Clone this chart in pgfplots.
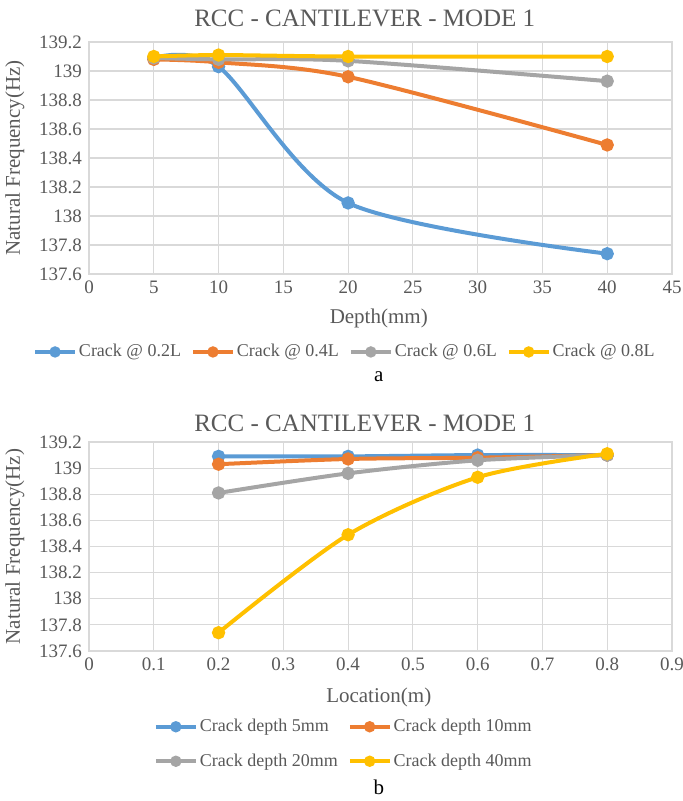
\documentclass[border=0pt]{standalone}
\usepackage{fontspec}
\setmainfont{Liberation Serif}
\usepackage{pgfplots}
\pgfplotsset{compat=1.18}

\definecolor{cblue}{HTML}{5B9BD5}
\definecolor{corange}{HTML}{ED7D31}
\definecolor{cgray}{HTML}{A5A5A5}
\definecolor{cyellow}{HTML}{FFC000}
\definecolor{gridgray}{HTML}{D9D9D9}
\definecolor{textgray}{HTML}{595959}

\pgfplotsset{
  every axis title/.style={at={(0.5,1)}, anchor=center},
  excel/.style={
    scale only axis, width=291.5pt,
    clip mode=individual,
    axis line style={draw=gridgray, line width=0.6pt},
    grid=major, major grid style={draw=gridgray, line width=0.6pt},
    tick style={draw=none},
    ticklabel style={font=\fontsize{9.5}{11}\selectfont, text=textgray},
    /pgf/number format/assume math mode=true,
    yticklabel style={/pgf/number format/fixed, /pgf/number format/precision=1},
    label style={font=\fontsize{10.5}{12}\selectfont, text=textgray},
    title style={font=\fontsize{12.5}{14}\selectfont, text=textgray},
    ylabel style={at={(axis description cs:-0.127,0.5)}, anchor=center, rotate=0},
    legend style={draw=none, fill=none, font=\fontsize{9}{11}\selectfont, text=textgray, anchor=center,
      /tikz/every even column/.append style={column sep=4pt},
      nodes={inner xsep=1pt}},
    legend cell align=left,
    legend image code/.code={\draw[mark repeat=2, mark phase=2, mark size=1.8pt]
      plot coordinates {(0cm,0cm) (0.35cm,0cm) (0.7cm,0cm)};},
    every axis plot/.append style={line width=2pt, mark=*, mark size=2.3pt, smooth},
    ymin=137.6, ymax=139.2,
    ytick={137.6,137.8,138,138.2,138.4,138.6,138.8,139,139.2},
    ylabel={Natural Frequency(Hz)},
    title={RCC - CANTILEVER - MODE 1},
  }
}

\begin{document}
\begin{tikzpicture}
\path[use as bounding box] (0,0) rectangle (341pt,-400.5pt);

% a: frequency against crack depth
\begin{axis}[excel,
  at={(44.5pt,-137pt)}, anchor=south west, height=116pt,
  xmin=0, xmax=45, xtick={0,5,...,45},
  xlabel={Depth(mm)},
  xlabel style={at={(axis description cs:0.497,-0.19)}, anchor=center},
  title style={at={(axis description cs:0.473,1.103)}},
  legend columns=4,
  legend style={at={(axis description cs:0.439,-0.336)}},
]
\addplot[cblue] coordinates {(5,139.09) (10,139.03) (20,138.09) (40,137.74)};
\addplot[corange] coordinates {(5,139.08) (10,139.06) (20,138.96) (40,138.49)};
\addplot[cgray] coordinates {(5,139.09) (10,139.08) (20,139.07) (40,138.93)};
\addplot[cyellow] coordinates {(5,139.10) (10,139.11) (20,139.10) (40,139.10)};
\legend{Crack @ 0.2L, Crack @ 0.4L, Crack @ 0.6L, Crack @ 0.8L}
\node[font=\fontsize{10.5}{12}\selectfont] at (axis description cs:0.497,-0.444) {a};
\end{axis}

% b: frequency against crack location
\begin{axis}[excel,
  at={(44.5pt,-325.5pt)}, anchor=south west, height=104.5pt,
  xmin=0, xmax=0.9, xtick={0,0.1,0.2,0.3,0.4,0.5,0.6,0.7,0.8,0.9},
  xticklabel style={/pgf/number format/fixed, /pgf/number format/precision=1},
  xlabel={Location(m)},
  xlabel style={at={(axis description cs:0.497,-0.22)}, anchor=center},
  title style={at={(axis description cs:0.473,1.091)}},
  legend columns=2,
  legend style={at={(axis description cs:0.437,-0.445)}, row sep=5.5pt},
]
\addplot[cblue] coordinates {(0.2,139.09) (0.4,139.09) (0.6,139.10) (0.8,139.10)};
\addplot[corange] coordinates {(0.2,139.03) (0.4,139.07) (0.6,139.08) (0.8,139.10)};
\addplot[cgray] coordinates {(0.2,138.81) (0.4,138.96) (0.6,139.06) (0.8,139.10)};
\addplot[cyellow] coordinates {(0.2,137.74) (0.4,138.49) (0.6,138.93) (0.8,139.11)};
\legend{Crack depth 5mm, Crack depth 10mm, Crack depth 20mm, Crack depth 40mm}
\node[font=\fontsize{10.5}{12}\selectfont] at (axis description cs:0.497,-0.651) {b};
\end{axis}
\end{tikzpicture}
\end{document}
